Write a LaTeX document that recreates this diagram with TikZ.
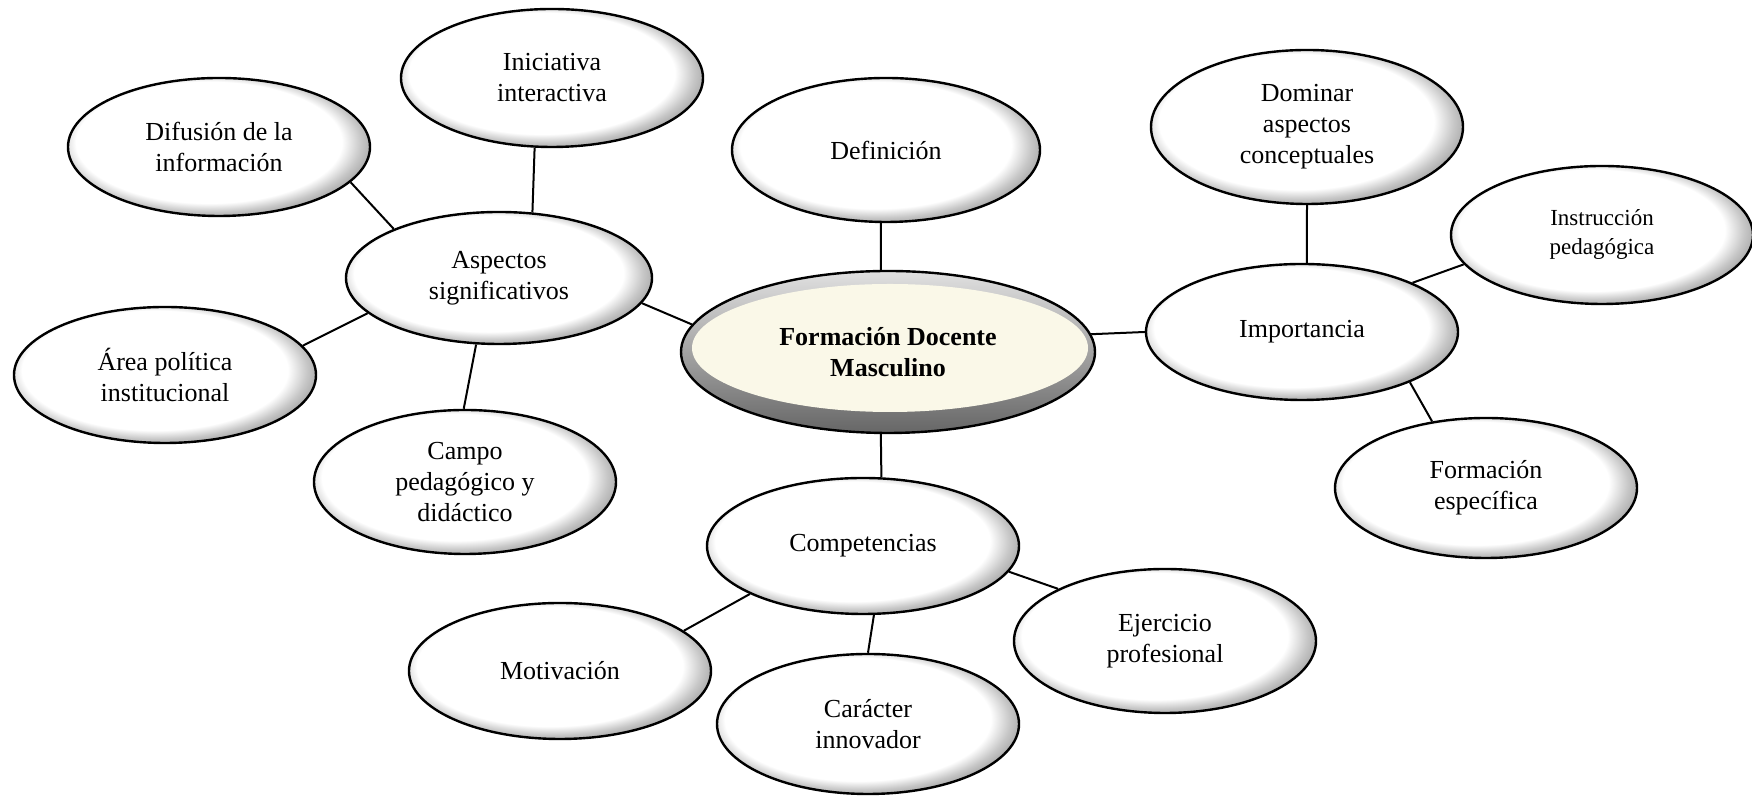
\documentclass[tikz,border=0pt]{standalone}
\usepackage{fontspec}
\setmainfont{Liberation Serif}
\usetikzlibrary{shapes.geometric}
\definecolor{cream}{RGB}{250,248,232}
\pgfdeclareradialshading{bevel}{\pgfpoint{-3bp}{3bp}}{color(0bp)=(white); color(22bp)=(white); color(25bp)=(black!22); color(29bp)=(black!45); color(50bp)=(black!50)}

\begin{document}
\begin{tikzpicture}[x=0.5pt, y=0.5pt, line width=1pt,
    idea/.style = {draw, ellipse, line width=1.2pt, shading=bevel, align=center, inner sep=0pt, minimum width=151pt, minimum height=69pt, font=\fontsize{13}{15.5}\selectfont},
    core/.style = {draw, ellipse, line width=1.2pt, top color=black!12, bottom color=black!60, align=center, inner sep=0pt, minimum width=207pt, minimum height=81pt, font=\fontsize{13}{15.5}\selectfont\bfseries,
        path picture={\fill[cream] ([shift={(1pt,2pt)}]path picture bounding box.center) ellipse (99pt and 32pt);}}]
    \useasboundingbox (0,0) rectangle (1752,796);

    \node[core] (fdm) at (888,444) {Formación Docente\\Masculino};
    \node[idea, minimum width=154pt, minimum height=72pt] (def) at (886,646) {Definición};
    \node[idea, minimum width=153pt, minimum height=66pt] (asp) at (499,518) {Aspectos\\significativos};
    \node[idea] (ini) at (552,718) {Iniciativa\\interactiva};
    \node[idea] (dif) at (219,649) {Difusión de la\\información};
    \node[idea, minimum height=68pt] (area) at (165,421) {Área política\\institucional};
    \node[idea, minimum height=72pt] (campo) at (465,314) {Campo\\pedagógico y\\didáctico};
    \node[idea, minimum width=156pt, minimum height=68pt] (imp) at (1302,464) {Importancia};
    \node[idea, minimum width=156pt, minimum height=77pt] (dom) at (1307,669) {Dominar\\aspectos\\conceptuales};
    \node[idea, font=\fontsize{11.5}{14.5}\selectfont] (ins) at (1602,561) {Instrucción\\pedagógica};
    \node[idea, minimum height=70pt] (fesp) at (1486,308) {Formación\\específica};
    \node[idea, minimum width=156pt, minimum height=68pt] (comp) at (863,250) {Competencias};
    \node[idea, minimum height=68pt] (mot) at (560,125) {Motivación};
    \node[idea, minimum height=70pt] (car) at (868,72) {Carácter\\innovador};
    \node[idea, minimum height=72pt] (ejer) at (1165,155) {Ejercicio\\profesional};

    \draw (asp.63) -- (ini.256);
    \draw (asp.155) -- (dif.345);
    \draw (asp.195) -- (area.12);
    \draw (asp.251) -- (campo.91);
    \draw (asp.350) -- (fdm.172);
    \draw (def.266) -- (fdm.95);
    \draw (fdm.5) -- (imp.180);
    \draw (imp.86) -- (dom.270);
    \draw (imp.24) -- (ins.192);
    \draw (imp.335) -- (fesp.129);
    \draw (fdm.265) -- (comp.75);
    \draw (comp.203) -- (mot.18);
    \draw (comp.279) -- (car.90);
    \draw (comp.350) -- (ejer.154);

\end{tikzpicture}
\end{document}
